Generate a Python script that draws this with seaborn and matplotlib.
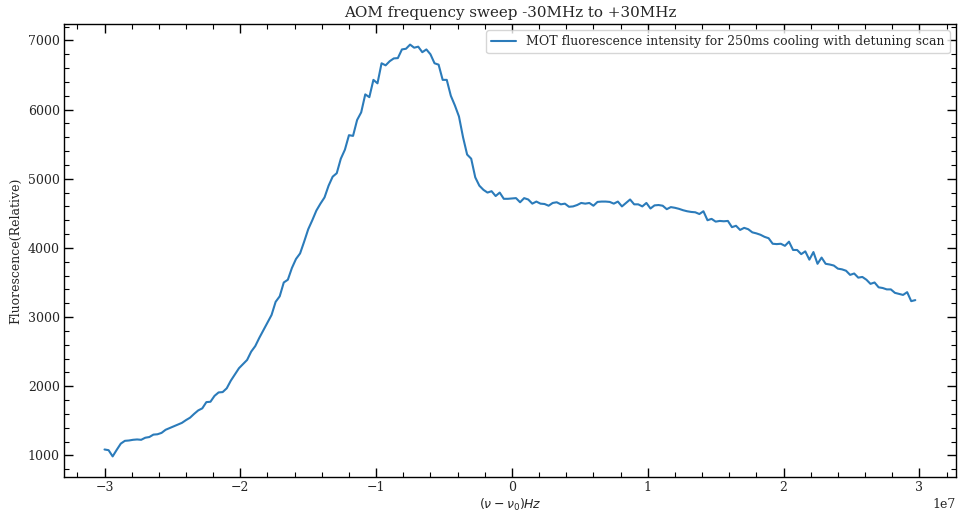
import numpy as np
import pandas as pd
import matplotlib
matplotlib.use("Agg")
import matplotlib.pyplot as plt
from matplotlib.ticker import AutoMinorLocator
import seaborn as sns

# Data (x in Hz, detuning scan -30 MHz .. +29.7 MHz)
x_start = -3.0e7
x_stop = 2.97e7
intensity = [
    1085, 1075, 985, 1080, 1170, 1210, 1215, 1225, 1230, 1225,
    1255, 1265, 1300, 1305, 1325, 1370, 1395, 1420, 1445, 1470,
    1510, 1545, 1600, 1650, 1680, 1770, 1775, 1860, 1910, 1915,
    1970, 2080, 2170, 2260, 2320, 2380, 2500, 2580, 2700, 2810,
    2920, 3030, 3220, 3300, 3500, 3540, 3710, 3840, 3920, 4090,
    4270, 4400, 4540, 4640, 4730, 4900, 5030, 5080, 5290, 5420,
    5630, 5620, 5850, 5960, 6220, 6180, 6430, 6380, 6670, 6640,
    6700, 6740, 6745, 6870, 6880, 6940, 6895, 6910, 6830, 6870,
    6800, 6670, 6650, 6430, 6430, 6200, 6060, 5900, 5600, 5350,
    5290, 5020, 4900, 4840, 4800, 4820, 4750, 4800, 4710, 4710,
    4715, 4720, 4660, 4720, 4700, 4640, 4670, 4640, 4635, 4610,
    4650, 4660, 4630, 4640, 4595, 4600, 4620, 4650, 4640, 4650,
    4610, 4665, 4670, 4670, 4665, 4640, 4670, 4600, 4650, 4700,
    4630, 4630, 4600, 4650, 4570, 4615, 4620, 4610, 4560, 4590,
    4580, 4565, 4545, 4530, 4520, 4515, 4490, 4530, 4400, 4420,
    4380, 4390, 4385, 4390, 4300, 4320, 4260, 4290, 4270, 4225,
    4210, 4190, 4160, 4140, 4060, 4055, 4060, 4030, 4090, 3970,
    3970, 3910, 3950, 3830, 3940, 3770, 3860, 3770, 3760, 3745,
    3700, 3690, 3670, 3610, 3630, 3570, 3580, 3540, 3480, 3500,
    3430, 3420, 3400, 3400, 3350, 3335, 3320, 3360, 3230, 3245,
]
detuning = np.linspace(x_start, x_stop, len(intensity))

title = "AOM frequency sweep -30MHz to +30MHz"
xlabel = r"$(\nu - \nu_0) Hz$"
ylabel = "Fluorescence(Relative)"
series_label = "MOT fluorescence intensity for 250ms cooling with detuning scan"

df = pd.DataFrame({"detuning": detuning, "intensity": intensity,
                   "series": series_label})

sns.set_style("white")
plt.rcParams["font.family"] = ["DejaVu Serif"]
plt.rcParams["mathtext.fontset"] = "dejavusans"

fig = plt.figure(figsize=(9.59, 5.13), dpi=100)
ax = fig.add_axes([0.0667, 0.0702, 0.930, 0.883])

sns.lineplot(data=df, x="detuning", y="intensity", hue="series",
             palette=["#2b7bba"], linewidth=1.5, ax=ax)

ax.set_title(title, fontsize=10.9, pad=5)
ax.set_xlabel(xlabel, fontsize=9, labelpad=2)
ax.set_ylabel(ylabel, fontsize=9, labelpad=4)

ax.xaxis.set_minor_locator(AutoMinorLocator(5))
ax.yaxis.set_minor_locator(AutoMinorLocator(5))
ax.tick_params(which="both", direction="in", top=True, right=True,
               bottom=True, left=True, labelsize=9, color="black")
ax.tick_params(which="major", length=6.5, width=1, pad=3)
ax.tick_params(which="minor", length=3.5, width=0.8)
ax.xaxis.get_offset_text().set_fontsize(9)
for s in ax.spines.values():
    s.set_color("black")
    s.set_linewidth(1)

leg = ax.legend(loc="upper right", fontsize=9, frameon=True)
leg.set_title(None)

fig.savefig("out.png", dpi=100)
